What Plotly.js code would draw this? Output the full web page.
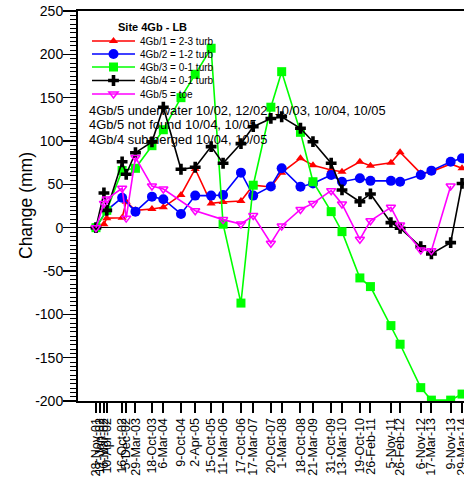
<!DOCTYPE html>
<html>
<head>
<meta charset="utf-8">
<script src="https://cdn.plot.ly/plotly-3.0.1.min.js"></script>
<style>
html,body{margin:0;padding:0;background:#fff;overflow:hidden;width:464px;height:483px;}
#chart{width:500px;height:483px;}
</style>
</head>
<body>
<div id="chart"></div>
<script>
// Measurement dates (x) and their tick labels
const dates = ["2001-11-28","2002-01-17","2002-03-06","2002-04-10","2002-10-16","2002-12-05","2003-03-29",
  "2003-10-18","2004-03-06","2004-10-09","2005-04-02","2005-10-15","2006-03-11","2006-10-17","2007-03-17",
  "2007-10-20","2008-03-01","2008-10-18","2009-03-21","2009-10-31","2010-03-13","2010-10-19","2011-02-26",
  "2011-11-05","2012-02-26","2012-11-06","2013-03-17","2013-11-09","2014-03-29"];
const tickLabels = ["28-Nov-01","17-Jan-02","6-Mar-02","10-Apr-02","16-Oct-02","5-Dec-02","29-Mar-03",
  "18-Oct-03","6-Mar-04","9-Oct-04","2-Apr-05","15-Oct-05","11-Mar-06","17-Oct-06","17-Mar-07",
  "20-Oct-07","1-Mar-08","18-Oct-08","21-Mar-09","31-Oct-09","13-Mar-10","19-Oct-10","26-Feb-11",
  "5-Nov-11","26-Feb-12","6-Nov-12","17-Mar-13","9-Nov-13","29-Mar-14"];
const yTickVals = [-200,-150,-100,-50,0,50,100,150,200,250];
const yTickLabels = ["-200","-150","-100","-50","0","50","100","150","200","250"];

// Change (mm) per pin
const gb1 = [0,null,4,11,11.5,30,20,21.5,23.5,37.7,67.7,28,29.6,30.8,49,47,63.5,80,72,66.6,64.6,76,71.5,75,87,62.7,64.6,73.5,68.5];
const gb2 = [0,null,null,20,34.6,null,18.5,35.8,32.8,15.8,37,37,37.7,63.5,37,47.5,68.5,47.3,51,60.8,53,57,54,54,53,60.8,65.8,76,80];
const gb3 = [0,null,null,20,66,null,68.5,94.6,113,150,177,207,4,-87,49,139,180,110,53,18.5,-4.6,-58,-68,-113,-134.5,-184.6,-199,-199,-192];
const gb4 = [0,null,40,20,76,61.6,86.5,99,139,67.4,69.7,93.5,74.3,97,116.5,126,128,114.7,99.2,74.3,43.5,30,38.9,5.8,-0.7,-22,-30.3,-17.3,51];
const gb5 = [0,null,28,33,45.5,11,81,48,44.6,null,19.6,null,9.3,4.2,14,-18,2,21,28,42.7,27.3,-13.4,8,23.5,3,-25.7,-26.5,48,null];

const seriesNames = ["4Gb/1 = 2-3 turb","4Gb/2 = 1-2 turb","4Gb/3 = 0-1 turb","4Gb/4 = 0-1 turb","4Gb/5 = toe"];
const notes = ["4Gb/5 underwater 10/02, 12/02, 10/03, 10/04, 10/05","4Gb/5 not found 10/04, 10/05","4Gb/4 submerged 10/04, 10/05"];
const legendTitle = "Site 4Gb - LB";
const yTitle = "Change (mm)";

const FONT = "Liberation Sans, Arial, sans-serif";
const styles = [
  {color:"#ff0000", symbol:"triangle-up", size:8, mline:0},
  {color:"#0000ff", symbol:"circle", size:10, mline:0},
  {color:"#00ff00", symbol:"square", size:9, mline:0},
  {color:"#000000", symbol:"cross", size:9, mline:0},
  {color:"#ff00ff", symbol:"triangle-down-open", size:8, mline:1.5}
];
const values = [gb1,gb2,gb3,gb4,gb5];
const legendKeys = ["legend","legend2","legend3","legend4","legend5"];

const traces = values.map((v,i)=>({
  type:"scatter", mode:"lines+markers", x:dates, y:v, name:seriesNames[i],
  connectgaps:true, cliponaxis:true, legend:legendKeys[i],
  line:{color:styles[i].color, width:1.6},
  marker:{color:styles[i].color, symbol:styles[i].symbol, size:styles[i].size,
          line:{color:styles[i].color, width:styles[i].mline}}
}));

const plotTop = 11, plotBottom = 401, plotH = plotBottom - plotTop;
const py = y => (plotBottom - y)/plotH;   // pixel row -> paper
const px = x => (x - 78)/402;             // pixel col -> paper

const rowY = [41,54,67,80.5,94];
const layout = {
  width:500, height:483,
  margin:{l:78, r:20, t:plotTop, b:483-plotBottom},
  paper_bgcolor:"#fff", plot_bgcolor:"#fff",
  font:{family:FONT, color:"#000"},
  showlegend:true,
  xaxis:{type:"date", range:["2001-04-21","2014-11-05"],
    tickmode:"array", tickvals:dates, ticktext:tickLabels, tickangle:-90,
    ticks:"outside", ticklen:10, tickwidth:2, tickcolor:"#000",
    showline:true, linewidth:2, linecolor:"#000", mirror:true,
    showgrid:false, zeroline:false, tickfont:{family:FONT, size:12.5, color:"#000"}},
  yaxis:{range:[-200,250], tickmode:"array", tickvals:yTickVals, ticktext:yTickLabels,
    ticks:"outside", ticklen:13, tickwidth:1.5, tickcolor:"#000",
    minor:{dtick:5, tick0:0, ticks:"outside", ticklen:6, tickwidth:1, tickcolor:"#000", showgrid:false},
    showline:true, linewidth:2, linecolor:"#000", showgrid:false,
    zeroline:true, zerolinecolor:"#000", zerolinewidth:1,
    ticklabelstandoff:-3,
    tickfont:{family:FONT, size:14, color:"#000"}},
  annotations:[
    {xref:"paper", yref:"paper", x:px(26), y:0.5, xanchor:"center", yanchor:"middle", showarrow:false,
     textangle:-90, text:yTitle, font:{family:FONT, size:17.5, color:"#000"}},
    {xref:"paper", yref:"paper", x:px(152), y:py(27), xanchor:"center", yanchor:"middle", showarrow:false,
     text:"<b>"+legendTitle+"</b>", font:{family:FONT, size:11, color:"#000"}},
    ...notes.map((t,i)=>({xref:"paper", yref:"paper", x:px(87), y:py(111+14*i), xanchor:"left", yanchor:"middle",
      showarrow:false, text:t, font:{family:FONT, size:12.9, color:"#000"}}))
  ]
};
legendKeys.forEach((k,i)=>{
  layout[k] = {x:px(87), y:py(rowY[i]), xanchor:"left", yanchor:"middle", bgcolor:"rgba(0,0,0,0)",
    borderwidth:0, itemwidth:43, font:{family:FONT, size:10, color:"#000"}, itemclick:false};
});

Plotly.newPlot("chart", traces, layout, {staticPlot:true, displayModeBar:false});
</script>
</body>
</html>
